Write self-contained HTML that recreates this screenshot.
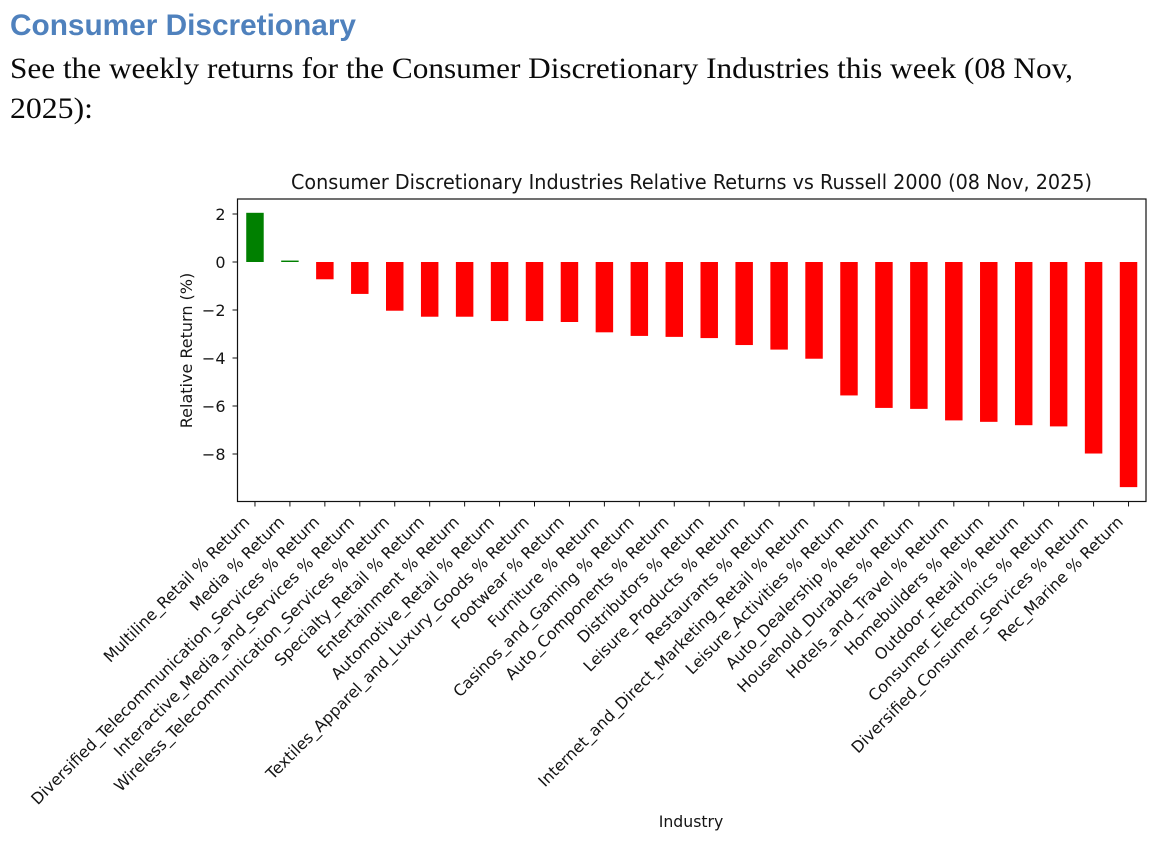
<!DOCTYPE html>
<html lang="en">
<head>
<meta charset="utf-8">
<title>Consumer Discretionary Industries Relative Returns</title>
<style>
html,body{margin:0;padding:0;background:#fff;width:1160px;height:854px;overflow:hidden}
svg{display:block}
.chart-text{font-family:"DejaVu Sans",sans-serif;fill:#151515}
</style>
</head>
<body>
<svg id="chart" width="1160" height="854" viewBox="0 0 1160 854" xmlns="http://www.w3.org/2000/svg">
  <rect x="0" y="0" width="1160" height="854" fill="#fff"/>
  <text x="10" y="35" font-family="'Liberation Sans',sans-serif" font-weight="700" font-size="30" fill="#4f81bd" textLength="346" lengthAdjust="spacingAndGlyphs">Consumer Discretionary</text>
  <text x="10" y="78" font-family="'Liberation Serif',serif" font-size="30" fill="#0a0a0a" textLength="1063" lengthAdjust="spacingAndGlyphs">See the weekly returns for the Consumer Discretionary Industries this week (08 Nov,</text>
  <text x="10" y="118" font-family="'Liberation Serif',serif" font-size="30" fill="#0a0a0a" textLength="83" lengthAdjust="spacingAndGlyphs">2025):</text>
  <text class="chart-text" x="691.5" y="189" text-anchor="middle" font-size="20" textLength="801" lengthAdjust="spacingAndGlyphs">Consumer Discretionary Industries Relative Returns vs Russell 2000 (08 Nov, 2025)</text>
  <g id="bars"></g>
  <g id="y-axis"></g>
  <g id="x-axis"></g>
  <rect x="237.5" y="199" width="908.5" height="302.5" fill="none" stroke="#111" stroke-width="1.2"/>
  <text class="chart-text" transform="translate(192,350.5) rotate(-90)" text-anchor="middle" font-size="16">Relative Return (%)</text>
  <text class="chart-text" x="691" y="827" text-anchor="middle" font-size="15.7">Industry</text>
</svg>
<script>
const categories = ["Multiline_Retail","Media","Diversified_Telecommunication_Services","Interactive_Media_and_Services","Wireless_Telecommunication_Services","Specialty_Retail","Entertainment","Automotive_Retail","Textiles_Apparel_and_Luxury_Goods","Footwear","Furniture","Casinos_and_Gaming","Auto_Components","Distributors","Leisure_Products","Restaurants","Internet_and_Direct_Marketing_Retail","Leisure_Activities","Auto_Dealership","Household_Durables","Hotels_and_Travel","Homebuilders","Outdoor_Retail","Consumer_Electronics","Diversified_Consumer_Services","Rec_Marine"];
const relativeReturns = [2.05,0.06,-0.72,-1.33,-2.03,-2.28,-2.28,-2.46,-2.46,-2.5,-2.93,-3.08,-3.12,-3.17,-3.46,-3.65,-4.03,-5.56,-6.08,-6.12,-6.6,-6.66,-6.8,-6.85,-7.98,-9.38];
const yTicks = [2,0,-2,-4,-6,-8];
const labelSuffix = " % Return";

const NS = "http://www.w3.org/2000/svg";
const plotLeft = 237.5, plotRight = 1146, plotTop = 199, plotBottom = 501.5;
const yMax = 2.625, yMin = yMax - (plotBottom - plotTop) / 24;
function xScale(i) {
  const step = (plotRight - plotLeft) / (categories.length);
  return plotLeft + step * (i + 0.5);
}
function yScale(v) {
  return plotTop + (yMax - v) / (yMax - yMin) * (plotBottom - plotTop);
}
const barWidth = 0.5 * (plotRight - plotLeft) / categories.length;

const barsGroup = document.getElementById("bars");
relativeReturns.forEach(function (v, i) {
  const r = document.createElementNS(NS, "rect");
  
  
  const y0 = yScale(0), y1 = yScale(v);
  r.setAttribute("x", xScale(i) - barWidth / 2);
  r.setAttribute("y", Math.min(y0, y1));
  r.setAttribute("width", barWidth);
  r.setAttribute("height", Math.abs(y1 - y0));
  r.setAttribute("fill", v >= 0 ? "#008000" : "#ff0000");
  barsGroup.appendChild(r);
});

const yAxis = document.getElementById("y-axis");
yTicks.forEach(function (t) {
  const y = yScale(t);
  const line = document.createElementNS(NS, "line");
  
  
  line.setAttribute("x1", plotLeft - 5);
  line.setAttribute("x2", plotLeft);
  line.setAttribute("y1", y);
  line.setAttribute("y2", y);
  line.setAttribute("stroke", "#111");
  line.setAttribute("stroke-width", "1");
  yAxis.appendChild(line);
  const text = document.createElementNS(NS, "text");
  
  
  text.setAttribute("class", "chart-text");
  text.setAttribute("x", plotLeft - 12);
  text.setAttribute("y", y + 5.8);
  text.setAttribute("text-anchor", "end");
  text.setAttribute("font-size", "16");
  text.textContent = String(t).replace("-", "\u2212");
  yAxis.appendChild(text);
});

const xAxis = document.getElementById("x-axis");
categories.forEach(function (c, i) {
  const x = xScale(i);
  const line = document.createElementNS(NS, "line");
  
  
  line.setAttribute("x1", x);
  line.setAttribute("x2", x);
  line.setAttribute("y1", plotBottom);
  line.setAttribute("y2", plotBottom + 5);
  line.setAttribute("stroke", "#111");
  line.setAttribute("stroke-width", "1");
  xAxis.appendChild(line);
  const text = document.createElementNS(NS, "text");
  
  
  text.setAttribute("class", "chart-text");
  text.setAttribute("transform", "translate(" + (x - 4.5) + ",523) rotate(-45)");
  text.setAttribute("text-anchor", "end");
  text.setAttribute("font-size", "15.9");
  text.textContent = c + labelSuffix;
  xAxis.appendChild(text);
});
</script>
</body>
</html>
